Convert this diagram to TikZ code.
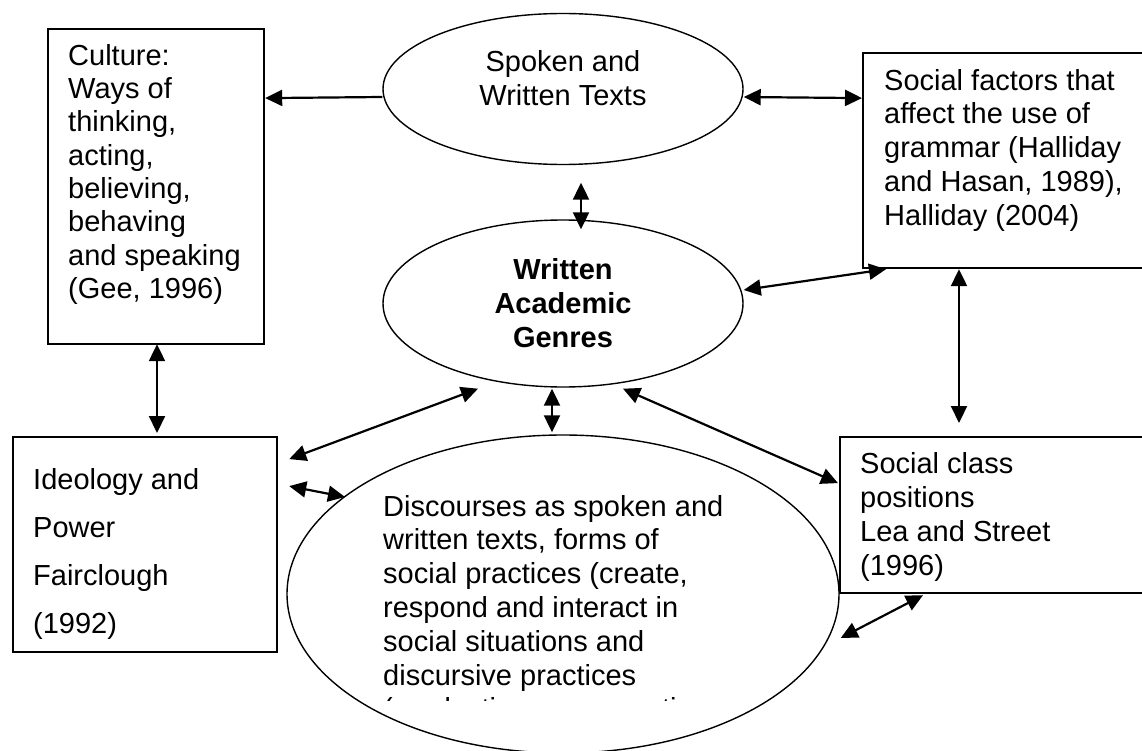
\documentclass[tikz,border=0pt]{standalone}
\usepackage{fontspec}
\setmainfont{Liberation Sans}
\usetikzlibrary{arrows.meta,calc,shapes.geometric}
\begin{document}
\begin{tikzpicture}[x=1pt,y=-1pt,
  box/.style={draw,rectangle,line width=2.2pt,inner sep=0pt,anchor=north west},
  oval/.style={draw,ellipse,line width=1.4pt,inner sep=0pt},
  txt/.style={inner sep=0pt,align=left},
  darr/.style={line width=2.2pt,{Triangle[length=17pt,width=16pt]}-{Triangle[length=17pt,width=16pt]}},
  sarr/.style={line width=2.2pt,-{Triangle[length=17pt,width=16pt]}}]
\useasboundingbox (0,0) rectangle (1142,751);
\clip (0,0) rectangle (1142,751);

% shapes
\node[box,minimum width=216pt,minimum height=315pt] (cul) at (47,28) {};
\node[box,minimum width=290pt,minimum height=215pt] (soc) at (862,52) {};
\node[box,minimum width=264pt,minimum height=215pt] (ide) at (12,436) {};
\node[box,minimum width=312pt,minimum height=156pt] (cls) at (839,436) {};
\node[oval,minimum width=360pt,minimum height=151pt] (spk) at (563,89) {};
\node[oval,minimum width=360pt,minimum height=167pt] (wag) at (563,303.5) {};
\node[oval,minimum width=552pt,minimum height=318pt] (dis) at (563,594) {};

% texts
\node[txt,anchor=north west,font=\fontsize{29}{33.3}\selectfont] (cult) at (68,41.7)
  {\strut Culture:\\Ways of\\thinking,\\acting,\\believing,\\behaving\\and speaking\\(Gee, 1996)};
\node[txt,align=center,anchor=north,font=\fontsize{29}{34}\selectfont] (spkt) at (563,47.2)
  {\strut Spoken and\\Written Texts};
\node[txt,anchor=north west,font=\fontsize{29}{33.75}\selectfont] (soct) at (884,66.4)
  {\strut Social factors that\\affect the use of\\grammar (Halliday\\and Hasan, 1989),\\Halliday (2004)};
\node[txt,align=center,anchor=north,font=\fontsize{29}{34}\selectfont\bfseries] (wagt) at (563,255.2)
  {\strut Written\\Academic\\Genres};
\node[txt,anchor=north west,font=\fontsize{29}{48}\selectfont] (idet) at (33,455.4)
  {\strut Ideology and\\Power\\Fairclough\\(1992)};
\node[txt,anchor=north west,font=\fontsize{29}{33.8}\selectfont] (dist) at (383,492.3)
  {\strut Discourses as spoken and\\written texts, forms of\\social practices (create,\\respond and interact in\\social situations and\\discursive practices};
\node[txt,anchor=north west,font=\fontsize{29}{34}\selectfont] (clst) at (860,449.2)
  {\strut Social class\\positions\\Lea and Street\\(1996)};
\begin{scope}
  \clip (300,690) rectangle (800,700);
  \node[txt,anchor=base west,font=\fontsize{29}{33.8}\selectfont] (dis7) at (383,718.8)
    {(production, consumption};
\end{scope}

% connectors
\draw[sarr] ($(spk.west)+(0,8)$) -- ($(cul.east)+(0,-88.5)$);
\draw[darr] ($(spk.east)+(0,8)$) -- ($(soc.west)+(0,-62.5)$);
\draw[darr] ($(spk.south)+(18,17.5)$) -- ($(wag.north)+(18,10)$);
\draw[darr] ($(wag.east)+(0,-13.5)$) -- ($(soc.south west)+(24,0)$);
\draw[darr] ($(soc.south west)+(97,0)$) -- ($(cls.north west)+(120,-13)$);
\draw[darr] ($(cul.south west)+(110,-1)$) -- ($(ide.north west)+(145,-3)$);
\draw[darr] ($(wag.south)+(-85,1)$) -- ($(ide.east)+(11,-85.5)$);
\draw[darr] ($(wag.south)+(-11,1)$) -- ($(dis.north)+(-11,-2)$);
\draw[darr] ($(wag.south)+(60,1)$) -- ($(cls.west)+(-1,-32)$);
\draw[darr] ($(ide.east)+(11,-58.5)$) -- ($(dis.center)+(-218,-97)$);
\draw[darr] ($(cls.south west)+(84,1)$) -- ($(dis.east)+(1,44)$);
\end{tikzpicture}
\end{document}
